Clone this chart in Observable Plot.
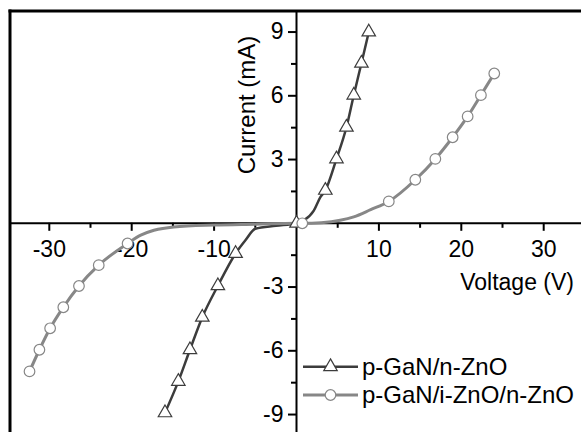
<!DOCTYPE html>
<html><head><meta charset="utf-8">
<script src="https://cdn.jsdelivr.net/npm/d3@7"></script>
<script src="https://cdn.jsdelivr.net/npm/@observablehq/plot@0.6"></script>
<style>
html,body{margin:0;padding:0;background:#fff;overflow:hidden}
#wrap{position:relative;width:581px;height:432px}
#legend{position:absolute;left:0;top:0;pointer-events:none}
</style></head><body><div id="wrap"></div>
<script>
// ---- data ----
// p-GaN/n-ZnO : smooth curve points
const ganV = [-15.96, -14.34, -12.93, -11.43, -9.54, -7.39, -6.2, -5.0, -2.5, 0, 0.9, 2.1, 2.9, 3.5, 4.85, 6.06, 6.95, 7.88, 8.77];
const ganI = [-8.92, -7.44, -5.95, -4.42, -2.94, -1.42, -0.8, -0.26, -0.12, 0, 0.14, 0.6, 1.23, 1.55, 3.03, 4.52, 6.03, 7.53, 9.0];
// p-GaN/n-ZnO : marker points
const ganMarkV = [-15.96, -14.34, -12.93, -11.43, -9.54, -7.39, 0, 3.5, 4.85, 6.06, 6.95, 7.88, 8.77];
const ganMarkI = [-8.92, -7.44, -5.95, -4.42, -2.94, -1.42, 0, 1.55, 3.03, 4.52, 6.03, 7.53, 9.0];
// p-GaN/i-ZnO/n-ZnO : smooth curve points
const iznoV = [-32.4, -31.2, -29.9, -28.3, -26.4, -24.0, -20.5, -18.9, -17.3, -14.9, -10, -5, 0, 0.7, 3, 5.3, 6.95, 9.0, 11.2, 14.42, 16.85, 18.95, 20.77, 22.38, 24.0];
const iznoI = [-6.97, -5.95, -4.94, -3.95, -2.95, -1.97, -0.95, -0.56, -0.33, -0.17, -0.08, -0.04, 0, 0, 0.03, 0.14, 0.3, 0.64, 1.03, 2.05, 3.03, 4.05, 5.03, 6.03, 7.05];
// p-GaN/i-ZnO/n-ZnO : marker points
const iznoMarkV = [-32.4, -31.2, -29.9, -28.3, -26.4, -24.0, -20.5, 0.7, 11.2, 14.42, 16.85, 18.95, 20.77, 22.38, 24.0];
const iznoMarkI = [-6.97, -5.95, -4.94, -3.95, -2.95, -1.97, -0.95, 0, 1.03, 2.05, 3.03, 4.05, 5.03, 6.03, 7.05];
// ticks and labels
const xMajorTicks = [-30, -20, -10, 10, 20, 30];
const xMinorTicks = [-25, -15, -5, 5, 15, 25];
const yMajorTicks = [-9, -6, -3, 3, 6, 9];
const yMinorTicks = [-7.5, -4.5, -1.5, 1.5, 4.5, 7.5];
const seriesNames = ["p-GaN/n-ZnO", "p-GaN/i-ZnO/n-ZnO"];
const xLabel = "Voltage (V)";
const yLabel = "Current (mA)";

// ---- layout ----
const W = 581, H = 432;
const X0 = 296, KX = 8.24, Y0 = 222.8, KY = 21.25;
const mL = 9.5, mT = 10.5;
const FONT = "'Liberation Sans', Arial, Helvetica, sans-serif";
const C1 = "#3c3c3c", C2 = "#878787";

const zip = (a, b) => a.map((v, i) => ({V: v, I: b[i]}));
const line1 = zip(ganV, ganI), mark1 = zip(ganMarkV, ganMarkI);
const line2 = zip(iznoV, iznoI), mark2 = zip(iznoMarkV, iznoMarkI);
const fmt = d => String(d);

const plot = Plot.plot({
  width: W, height: H,
  marginLeft: mL, marginTop: mT, marginRight: 0, marginBottom: 0,
  style: {fontFamily: FONT, fontSize: "23px", color: "#000", background: "#fff"},
  x: {domain: [-35, 35], range: [X0 - 35 * KX, X0 + 35 * KX]},
  y: {domain: [-10, 10], range: [Y0 + 10 * KY, Y0 - 10 * KY]},
  marks: [
    Plot.frame({anchor: "left", stroke: "#000", strokeWidth: 3}),
    Plot.frame({anchor: "top", stroke: "#000", strokeWidth: 3}),
    Plot.ruleY([0], {stroke: "#000", strokeWidth: 2}),
    Plot.ruleX([0], {stroke: "#000", strokeWidth: 2}),
    Plot.axisX(xMajorTicks, {anchor: "bottom", dy: Y0 - H, tickSize: 8, tickPadding: 9, strokeWidth: 2, tickFormat: fmt, label: null}),
    Plot.axisX(xMinorTicks, {anchor: "bottom", dy: Y0 - H, tickSize: 5, strokeWidth: 2, text: null, label: null}),
    Plot.axisY(yMajorTicks, {anchor: "left", dx: X0 - mL, tickSize: 8, tickPadding: 5, strokeWidth: 2, tickFormat: fmt, label: null}),
    Plot.axisY(yMinorTicks, {anchor: "left", dx: X0 - mL, tickSize: 5, strokeWidth: 2, text: null, label: null}),
    Plot.text([xLabel], {frameAnchor: "top-right", dx: -7.5, dy: 272, textAnchor: "end", lineAnchor: "middle", fontSize: 23}),
    Plot.text([yLabel], {frameAnchor: "top-left", dx: 237.5, dy: 94, rotate: -90, textAnchor: "middle", lineAnchor: "middle", fontSize: 24}),
    Plot.line(line1, {x: "V", y: "I", stroke: C1, strokeWidth: 2.5, curve: "monotone-x"}),
    Plot.line(line2, {x: "V", y: "I", stroke: C2, strokeWidth: 3, curve: "monotone-x"}),
    Plot.dot(mark1, {x: "V", y: "I", symbol: "triangle", r: 5, fill: "#fff", stroke: C1, strokeWidth: 1.2}),
    Plot.dot(mark2, {x: "V", y: "I", symbol: "circle", r: 5.3, fill: "#fff", stroke: C2, strokeWidth: 1.2})
  ]
});
const wrap = document.getElementById("wrap");
wrap.appendChild(plot);

// ---- legend (inside the plot, bottom right) ----
const lg = d3.select(wrap).append("svg").attr("id", "legend").attr("width", W).attr("height", H)
  .style("font-family", FONT).style("font-size", "24px");
const entries = [
  {name: seriesNames[0], color: C1, sym: d3.symbolTriangle, size: Math.PI * 25, sw: 2.5},
  {name: seriesNames[1], color: C2, sym: d3.symbolCircle, size: Math.PI * 5.3 * 5.3, sw: 3}
];
const LX1 = 303, LX2 = 358, LY = 366.7, LDY = 28.3;
entries.forEach((e, i) => {
  const y = LY + i * LDY;
  lg.append("line").attr("x1", LX1).attr("x2", LX2).attr("y1", y).attr("y2", y)
    .attr("stroke", e.color).attr("stroke-width", e.sw);
  lg.append("path").attr("d", d3.symbol(e.sym, e.size)()).attr("transform", `translate(${(LX1 + LX2) / 2},${y})`)
    .attr("fill", "#fff").attr("stroke", e.color).attr("stroke-width", 1.2);
  lg.append("text").attr("x", 362).attr("y", y).attr("dy", "0.35em").attr("fill", "#000").text(e.name);
});
</script></body></html>
